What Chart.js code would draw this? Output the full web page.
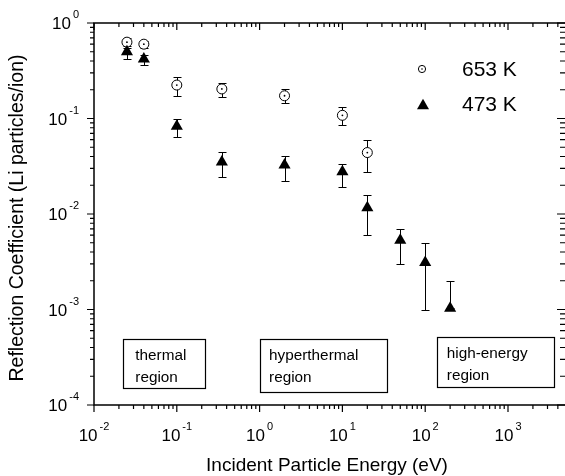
<!DOCTYPE html>
<html><head><meta charset="utf-8">
<script src="https://cdn.jsdelivr.net/npm/chart.js@4"></script>
<style>html,body{margin:0;padding:0;background:#fff}</style>
</head><body>
<canvas id="c" width="565" height="476"></canvas>
<script>
// ---- data ----
const energy653 = [0.025, 0.04, 0.1, 0.35, 2, 10, 20];
const refl653   = [0.63, 0.60, 0.224, 0.204, 0.173, 0.108, 0.044];
const refl653Hi = [0.70, 0.655, 0.274, 0.237, 0.204, 0.131, 0.0596];
const refl653Lo = [0.57, 0.55, 0.172, 0.169, 0.144, 0.086, 0.0273];

const energy473 = [0.025, 0.04, 0.1, 0.35, 2, 10, 20, 50, 100, 200];
const refl473   = [0.50, 0.42, 0.083, 0.035, 0.0326, 0.0277, 0.0116, 0.0053, 0.0031, 0.00103];
const refl473Hi = [0.55, 0.46, 0.098, 0.0443, 0.0405, 0.0334, 0.0159, 0.0070, 0.0050, 0.0020];
const refl473Lo = [0.417, 0.363, 0.0645, 0.0242, 0.0222, 0.0193, 0.0060, 0.0030, 0.00099, 0.00103];

const xTickValues = [1e-2, 1e-1, 1e0, 1e1, 1e2, 1e3];
const xTickExp    = ['-2', '-1', '0', '1', '2', '3'];
const yTickValues = [1e-4, 1e-3, 1e-2, 1e-1, 1e0];
const yTickExp    = ['-4', '-3', '-2', '-1', '0'];

const seriesLabels = ['653 K', '473 K'];
const regionLabels = [['thermal', 'region'], ['hyperthermal', 'region'], ['high-energy', 'region']];
const xTitle = 'Incident Particle Energy (eV)';
const yTitle = 'Reflection Coefficient (Li particles/ion)';

const FONT = '"Liberation Sans", Arial, Helvetica, sans-serif';

// region annotation boxes in data coordinates
const regionSpec = [
  {x0: 0.0223, x1: 0.217, yTop: 4.94e-4, yBot: 1.50e-4, pad: 12.5},
  {x0: 1.0,    x1: 34.6,  yTop: 4.94e-4, yBot: 1.37e-4, pad: 9.5},
  {x0: 138,    x1: 3556,  yTop: 5.19e-4, yBot: 1.55e-4, pad: 10}
];

const errorBars = {
  id: 'errorBars',
  beforeDatasetsDraw(chart) {
    const ctx = chart.ctx, ys = chart.scales.y, xs = chart.scales.x;
    const sets = [[energy653, refl653Hi, refl653Lo], [energy473, refl473Hi, refl473Lo]];
    ctx.save();
    ctx.strokeStyle = '#000';
    ctx.lineWidth = 1;
    const cap = 4;
    sets.forEach(([xv, hi, lo]) => {
      xv.forEach((x, i) => {
        const px = Math.round(xs.getPixelForValue(x)) + 0.5;
        const yh = Math.round(ys.getPixelForValue(hi[i])) + 0.5;
        const yl = Math.round(ys.getPixelForValue(lo[i])) + 0.5;
        ctx.beginPath();
        ctx.moveTo(px, yh); ctx.lineTo(px, yl);
        ctx.moveTo(px - cap, yh); ctx.lineTo(px + cap, yh);
        if (yl - yh > 0) { ctx.moveTo(px - cap, yl); ctx.lineTo(px + cap, yl); }
        ctx.stroke();
      });
    });
    ctx.restore();
  }
};

function drawPow(ctx, exp, x, baseY, align) {
  ctx.font = '17px ' + FONT;
  const w1 = ctx.measureText('10').width;
  ctx.font = '11px ' + FONT;
  const w2 = ctx.measureText(exp).width;
  const gap = 2;
  const total = w1 + gap + w2;
  const left = align === 'center' ? x - total / 2 : x - total;
  ctx.textAlign = 'left';
  ctx.textBaseline = 'alphabetic';
  ctx.font = '17px ' + FONT;
  ctx.fillText('10', left, baseY);
  ctx.font = '11px ' + FONT;
  ctx.fillText(exp, left + w1 + gap, baseY - 11);
}

function drawTriangle(ctx, cx, cy, w) {
  const h = w * 0.866;
  ctx.beginPath();
  ctx.moveTo(cx, cy - h / 2);
  ctx.lineTo(cx + w / 2, cy + h / 2);
  ctx.lineTo(cx - w / 2, cy + h / 2);
  ctx.closePath();
  ctx.fill();
}

const frame = {
  id: 'frame',
  afterDraw(chart) {
    const ctx = chart.ctx, a = chart.chartArea, xs = chart.scales.x, ys = chart.scales.y;
    ctx.save();
    ctx.strokeStyle = '#000';
    ctx.fillStyle = '#000';
    // frame (right spine falls on the canvas edge)
    ctx.lineWidth = 1.5;
    ctx.beginPath();
    ctx.moveTo(a.right, a.top); ctx.lineTo(a.left, a.top);
    ctx.lineTo(a.left, a.bottom); ctx.lineTo(a.right, a.bottom);
    ctx.stroke();
    // ticks
    ctx.lineWidth = 1.2;
    const major = 7, minor = 4;
    ctx.beginPath();
    for (let e = -2; e <= 3; e++) {
      for (let m = 1; m <= 9; m++) {
        const v = m * Math.pow(10, e);
        if (v > xs.max) break;
        const px = xs.getPixelForValue(v);
        const len = m === 1 ? major : minor;
        ctx.moveTo(px, a.bottom); ctx.lineTo(px, a.bottom + len);
        ctx.moveTo(px, a.top); ctx.lineTo(px, a.top + len);
      }
    }
    for (let e = -4; e <= 0; e++) {
      for (let m = 1; m <= 9; m++) {
        const v = m * Math.pow(10, e);
        if (v > ys.max) break;
        const py = ys.getPixelForValue(v);
        const len = m === 1 ? major : minor;
        ctx.moveTo(a.left, py); ctx.lineTo(a.left - len, py);
        ctx.moveTo(a.right, py); ctx.lineTo(a.right - len - 1, py);
      }
    }
    ctx.stroke();
    // tick labels
    xTickValues.forEach((v, i) => drawPow(ctx, xTickExp[i], xs.getPixelForValue(v), a.bottom + 36, 'center'));
    yTickValues.forEach((v, i) => drawPow(ctx, yTickExp[i], a.left - 15, ys.getPixelForValue(v) + 6, 'right'));
    // axis titles
    ctx.textAlign = 'center';
    ctx.textBaseline = 'middle';
    ctx.font = '19px ' + FONT;
    ctx.fillText(xTitle, 327, a.bottom + 61);
    ctx.save();
    ctx.font = '19.5px ' + FONT;
    ctx.translate(18, (a.top + a.bottom) / 2 + 4);
    ctx.rotate(-Math.PI / 2);
    ctx.fillText(yTitle, 0, 0);
    ctx.restore();
    // region boxes
    ctx.lineWidth = 1.2;
    ctx.font = '15.3px ' + FONT;
    ctx.textAlign = 'left';
    ctx.textBaseline = 'alphabetic';
    regionSpec.forEach((r, i) => {
      const x0 = xs.getPixelForValue(r.x0), x1 = xs.getPixelForValue(r.x1);
      const y0 = ys.getPixelForValue(r.yTop), y1 = ys.getPixelForValue(r.yBot);
      ctx.fillStyle = '#fff';
      ctx.fillRect(x0, y0, x1 - x0, y1 - y0);
      ctx.strokeRect(Math.round(x0) + 0.5, Math.round(y0) + 0.5, Math.round(x1 - x0), Math.round(y1 - y0));
      ctx.fillStyle = '#000';
      ctx.fillText(regionLabels[i][0], x0 + r.pad, y0 + 21);
      ctx.fillText(regionLabels[i][1], x0 + r.pad, y0 + 43);
    });
    // legend
    const lx = a.left + 328, ly1 = a.top + 46, ly2 = a.top + 81;
    ctx.lineWidth = 1;
    ctx.beginPath(); ctx.arc(lx, ly1, 3.6, 0, Math.PI * 2);
    ctx.fillStyle = '#fff'; ctx.fill(); ctx.stroke();
    ctx.fillStyle = '#000';
    ctx.beginPath(); ctx.arc(lx, ly1, 0.8, 0, Math.PI * 2); ctx.fill();
    drawTriangle(ctx, lx + 1, ly2, 12);
    ctx.font = '21px ' + FONT;
    ctx.textBaseline = 'middle';
    ctx.fillText(seriesLabels[0], lx + 40, ly1 + 1);
    ctx.fillText(seriesLabels[1], lx + 40, ly2 + 1);
    ctx.restore();
  }
};

const pts653 = energy653.map((x, i) => ({x, y: refl653[i]}));
const pts473 = energy473.map((x, i) => ({x, y: refl473[i]}));

new Chart(document.getElementById('c'), {
  type: 'scatter',
  data: {
    datasets: [
      {label: seriesLabels[1], data: pts473, pointStyle: 'triangle', pointRadius: 7,
       backgroundColor: '#000', borderColor: '#000', borderWidth: 0, order: 0},
      {label: seriesLabels[0] + ' centre', data: pts653, pointStyle: 'circle', pointRadius: 0.9,
       backgroundColor: '#000', borderColor: '#000', borderWidth: 0, order: 1},
      {label: seriesLabels[0], data: pts653, pointStyle: 'circle', pointRadius: 5,
       backgroundColor: '#fff', borderColor: '#000', borderWidth: 1, order: 2}
    ]
  },
  options: {
    responsive: false,
    animation: false,
    devicePixelRatio: 1,
    events: [],
    layout: {autoPadding: false, padding: {left: 94, top: 23, right: 0, bottom: 71}},
    scales: {
      x: {type: 'logarithmic', min: 0.01, max: 4880, display: false},
      y: {type: 'logarithmic', min: 1e-4, max: 1, display: false}
    },
    plugins: {legend: {display: false}, tooltip: {enabled: false}}
  },
  plugins: [errorBars, frame]
});
</script>
</body></html>
